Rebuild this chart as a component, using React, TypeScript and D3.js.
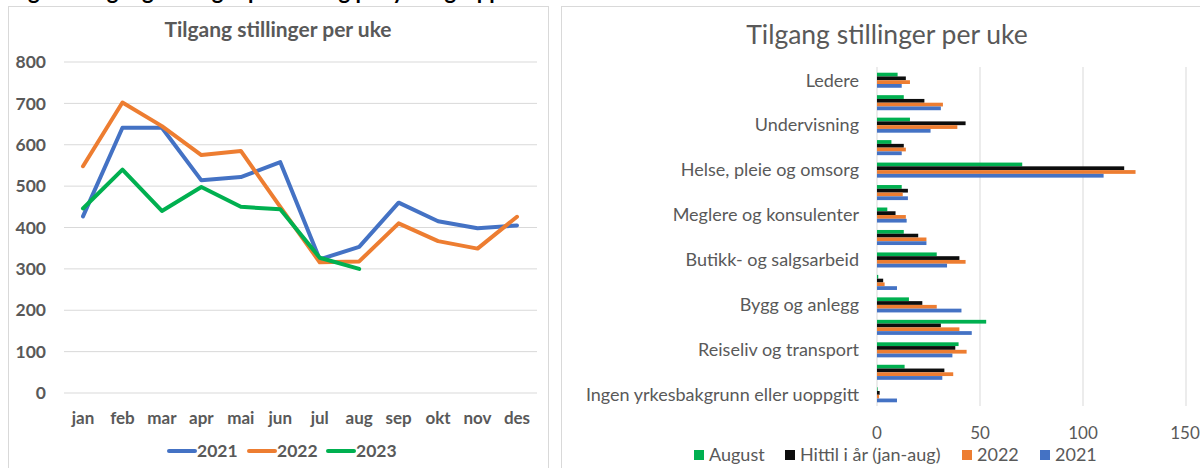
import React from 'react';
import * as d3 from 'd3';

// Left chart: weekly inflow of positions per month
const months = ['jan', 'feb', 'mar', 'apr', 'mai', 'jun', 'jul', 'aug', 'sep', 'okt', 'nov', 'des'];
const values2021 = [427, 641, 641, 514, 522, 558, 323, 353, 460, 415, 398, 405];
const values2022 = [548, 702, 645, 575, 585, 450, 316, 318, 410, 367, 349, 426];
const values2023 = [446, 540, 440, 498, 450, 444, 327, 300];
const yTicks = [0, 100, 200, 300, 400, 500, 600, 700, 800];

// Right chart: per occupation group
const categories = [
  'Ledere',
  'Ingeniør- og ikt-fag',
  'Undervisning',
  'Akademiske yrker',
  'Helse, pleie og omsorg',
  'Barne- og ungdomsarbeid',
  'Meglere og konsulenter',
  'Kontorarbeid',
  'Butikk- og salgsarbeid',
  'Jordbruk, skogbruk og fiske',
  'Bygg og anlegg',
  'Industriarbeid',
  'Reiseliv og transport',
  'Serviceyrker og annet arbeid',
  'Ingen yrkesbakgrunn eller uoppgitt',
];
const august = [10, 13, 16, 7, 70.5, 12, 5, 13, 29, 0.6, 15.5, 53, 39.6, 13.4, 0.3];
const hittil = [14, 23, 43, 13, 120, 15, 9, 20, 40, 3, 22, 31, 38, 32.7, 1.3];
const bar2022 = [16, 32, 39, 14, 125.5, 12.5, 14, 24, 43, 3.7, 29, 40, 43.5, 37, 1];
const bar2021 = [12, 31, 26, 12, 110, 15, 14.4, 24, 34, 9.7, 41, 46, 36.6, 31.7, 9.7];
const xTicks = [0, 50, 100, 150];

const BLUE = '#4472C4';
const ORANGE = '#ED7D31';
const GREEN = '#00B050';
const BLACK = '#0D0D0D';
const TEXT = '#595959';
const GRID = '#D9D9D9';
const FONT = 'Lato, "Open Sans", sans-serif';

const LineChart = () => {
  const x = d3.scalePoint<string>().domain(months).range([83, 517]);
  const y = d3.scaleLinear().domain([0, 800]).range([393, 62]);
  const line = d3.line<number>()
    .x((_, i) => x(months[i]) as number)
    .y(d => y(d));

  const series = [
    { name: '2021', values: values2021, color: BLUE },
    { name: '2022', values: values2022, color: ORANGE },
    { name: '2023', values: values2023, color: GREEN },
  ];
  const legendX = [169, 249, 328];

  return (
    <g fontFamily={FONT}>
      <rect x={8.5} y={6.5} width={540} height={470} fill="#fff" stroke={GRID} />
      <text x={278} y={37} textAnchor="middle" fontSize={21} fontWeight="bold" fill={TEXT}>
        Tilgang stillinger per uke
      </text>
      {yTicks.map(t => (
        <g key={t}>
          <line x1={64} x2={537} y1={y(t)} y2={y(t)} stroke={GRID} strokeWidth={1} />
          <text x={46} y={y(t)} dy="0.35em" textAnchor="end" fontSize={17.5} fontWeight="bold" fill={TEXT}>{t}</text>
        </g>
      ))}
      {months.map(m => (
        <text key={m} x={x(m)} y={418} dy="0.35em" textAnchor="middle" fontSize={17} fontWeight="bold" fill={TEXT}>{m}</text>
      ))}
      {series.map(s => (
        <path key={s.name} d={line(s.values) || ''} fill="none" stroke={s.color} strokeWidth={4}
          strokeLinejoin="round" strokeLinecap="round" />
      ))}
      {series.map((s, i) => (
        <g key={s.name} transform={`translate(${legendX[i]},451)`}>
          <line x1={0} x2={26} y1={0} y2={0} stroke={s.color} strokeWidth={4} strokeLinecap="round" />
          <text x={28} y={0} dy="0.35em" fontSize={17.5} fontWeight="bold" fill={TEXT}>{s.name}</text>
        </g>
      ))}
    </g>
  );
};

const BarChart = () => {
  const x = d3.scaleLinear().domain([0, 150]).range([877, 1186]);
  const y = d3.scaleBand<string>().domain(categories).range([69, 406]).paddingInner(0.33).paddingOuter(0.165);

  const series = [
    { name: 'August', values: august, color: GREEN },
    { name: 'Hittil i år (jan-aug)', values: hittil, color: BLACK },
    { name: '2022', values: bar2022, color: ORANGE },
    { name: '2021', values: bar2021, color: BLUE },
  ];
  const inner = d3.scaleBand<string>().domain(series.map(s => s.name)).range([0, y.bandwidth()]);
  const legendX = [694, 785, 962, 1040];

  return (
    <g fontFamily={FONT}>
      <rect x={561.5} y={6.5} width={660} height={470} fill="#fff" stroke={GRID} />
      <text x={887} y={44} textAnchor="middle" fontSize={26.5} fill={TEXT}>Tilgang stillinger per uke</text>
      {xTicks.map(t => (
        <g key={t}>
          <line x1={x(t)} x2={x(t)} y1={67} y2={406} stroke={GRID} strokeWidth={1} />
          <text x={Math.min(x(t), 1185)} y={433} dy="0.35em" textAnchor="middle" fontSize={17} fill={TEXT}>{t}</text>
        </g>
      ))}
      {categories.map((c, ci) => (
        <g key={c}>
          {series.map(s => (
            <rect key={s.name} x={x(0)} y={(y(c) as number) + (inner(s.name) as number)}
              width={x(s.values[ci]) - x(0)} height={inner.bandwidth()} fill={s.color} />
          ))}
          {ci % 2 === 0 && (
            <text x={859} y={(y(c) as number) + y.bandwidth() / 2} dy="0.35em" textAnchor="end" fontSize={18} fill={TEXT}>
              {c}
            </text>
          )}
        </g>
      ))}
      {series.map((s, i) => (
        <g key={s.name} transform={`translate(${legendX[i]},455)`}>
          <rect x={0} y={-5} width={10} height={10} fill={s.color} />
          <text x={15} y={0} dy="0.35em" fontSize={18} fill={TEXT}>{s.name}</text>
        </g>
      ))}
    </g>
  );
};

export default function App() {
  return (
    <svg width={1200} height={468} style={{ position: 'absolute', left: 0, top: 0, background: '#fff' }}>
      <rect width={1200} height={468} fill="#fff" />
      <text x={10} y={-1} fontFamily={FONT} fontSize={22} fontWeight="bold" fill="#000">
        Figur 1 Tilgang stillinger per uke og per yrkesgruppe
      </text>
      <LineChart />
      <BarChart />
    </svg>
  );
}
